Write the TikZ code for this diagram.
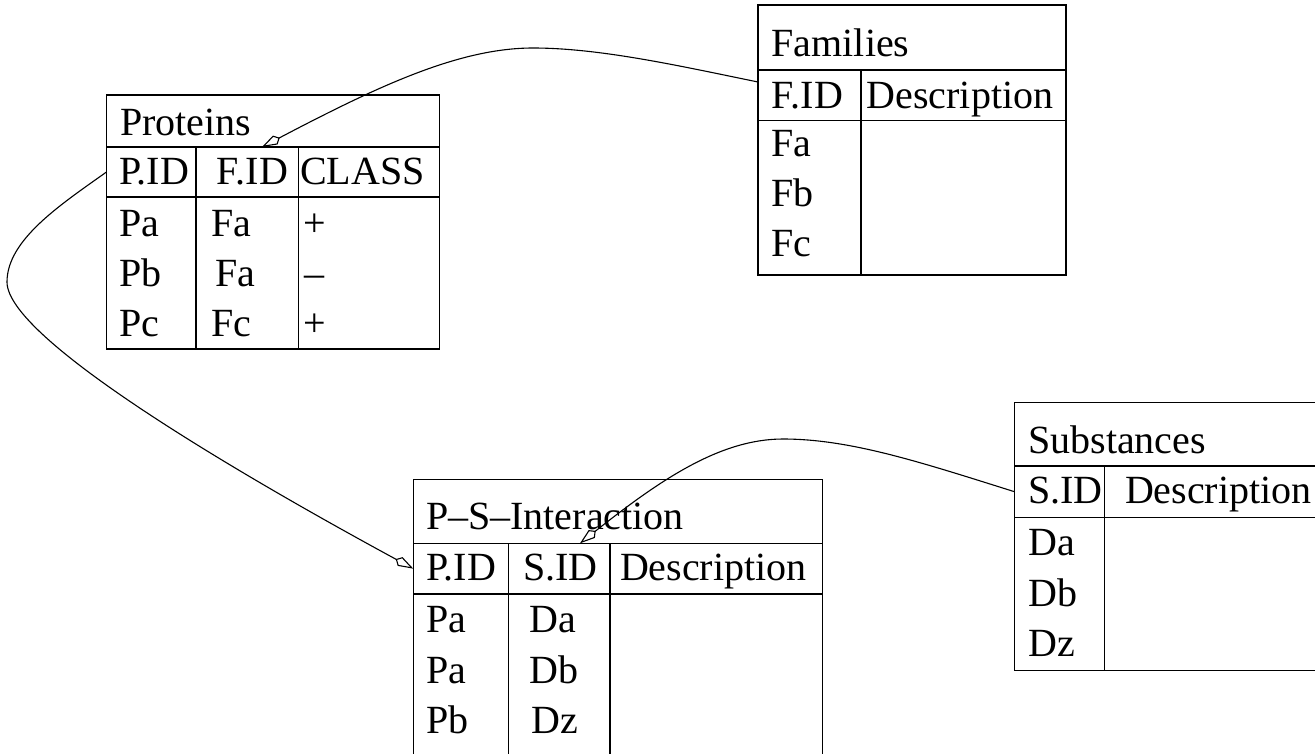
\documentclass[tikz,border=0pt]{standalone}
\usepackage{fontspec}
\setmainfont{Liberation Serif}
\usetikzlibrary{arrows.meta}
\begin{document}
\begin{tikzpicture}[x=1pt,y=-1pt,
  frame/.style={draw, line width=1.3pt, inner sep=0pt, outer sep=0pt, anchor=north west},
  rule/.style={line width=1.3pt},
  cell/.style={anchor=base west, inner sep=0pt, outer sep=0pt, font=\fontsize{40}{48}\selectfont},
  link/.style={line width=1.1pt, -{Kite[open, length=20pt, width=10pt, inset=5pt]}}
]
\useasboundingbox (0,0) rectangle (1315,753);
\clip (0,0) rectangle (1315,753);

% ---------- Proteins ----------
\node[frame, minimum width=333pt, minimum height=52pt]  (prot-title) at (106.5,95) {};
\node[frame, minimum width=333pt, minimum height=50pt]  (prot-head)  at (106.5,147) {};
\node[frame, minimum width=333pt, minimum height=152pt] (prot-body)  at (106.5,197) {};
\draw[rule] (196,147) -- (196,349);
\draw[rule] (298.7,147) -- (298.7,349);
\node[cell] (prot-name) at (120,135) {Proteins};
\node[cell] (prot-h1) at (119,184) {P.ID};
\node[cell] (prot-h2) at (216.7,184) {F.ID};
\node[cell] (prot-h3) at (300,184) {CLASS};
\node[cell] (prot-r1a) at (119,236.7) {Pa};
\node[cell] (prot-r1b) at (211.7,236.7) {Fa};
\node[cell] (prot-r1c) at (303,236.7) {+};
\node[cell] (prot-r2a) at (119,286.5) {Pb};
\node[cell] (prot-r2b) at (215,286.5) {Fa};
\node[cell] (prot-r2c) at (304,286.5) {–};
\node[cell] (prot-r3a) at (119,336) {Pc};
\node[cell] (prot-r3b) at (211.7,336) {Fc};
\node[cell] (prot-r3c) at (303,336) {+};

% ---------- Families ----------
\node[frame, minimum width=308pt, minimum height=65pt]    (fam-title) at (758,5) {};
\node[frame, minimum width=308pt, minimum height=50.7pt]  (fam-head)  at (758,70) {};
\node[frame, minimum width=308pt, minimum height=154.3pt] (fam-body)  at (758,120.7) {};
\draw[rule] (861,70) -- (861,275);
\node[cell] (fam-name) at (771.7,56.7) {Families};
\node[cell] (fam-h1) at (771.7,108) {F.ID};
\node[cell] (fam-h2) at (866.7,108) {Description};
\node[cell] (fam-r1) at (771.7,156.7) {Fa};
\node[cell] (fam-r2) at (771.7,206.7) {Fb};
\node[cell] (fam-r3) at (771.7,256.7) {Fc};

% ---------- P-S-Interaction ----------
\node[frame, minimum width=409.4pt, minimum height=64pt]   (psi-title) at (413.3,479.3) {};
\node[frame, minimum width=409.4pt, minimum height=50.7pt] (psi-head)  at (413.3,543.3) {};
\node[frame, minimum width=409.4pt, minimum height=200pt]  (psi-body)  at (413.3,594) {};
\draw[rule] (508.3,543.3) -- (508.3,794);
\draw[rule] (610,543.3) -- (610,794);
\node[cell] (psi-name) at (426,529.3) {P–S–Interaction};
\node[cell] (psi-h1) at (426,580.7) {P.ID};
\node[cell] (psi-h2) at (523.3,580.7) {S.ID};
\node[cell] (psi-h3) at (620,580.7) {Description};
\node[cell] (psi-r1a) at (426,632.3) {Pa};
\node[cell] (psi-r1b) at (529.3,632.3) {Da};
\node[cell] (psi-r2a) at (426,683.3) {Pa};
\node[cell] (psi-r2b) at (529.3,683.3) {Db};
\node[cell] (psi-r3a) at (426,733.3) {Pb};
\node[cell] (psi-r3b) at (531.7,733.3) {Dz};

% ---------- Substances ----------
\node[frame, minimum width=360pt, minimum height=63.3pt]  (sub-title) at (1014.3,402.7) {};
\node[frame, minimum width=360pt, minimum height=51.3pt]  (sub-head)  at (1014.3,466) {};
\node[frame, minimum width=360pt, minimum height=153.4pt] (sub-body)  at (1014.3,517.3) {};
\draw[rule] (1104.3,466) -- (1104.3,670.7);
\node[cell] (sub-name) at (1028.3,453.3) {Substances};
\node[cell] (sub-h1) at (1028.3,503.3) {S.ID};
\node[cell] (sub-h2) at (1125,503.3) {Description};
\node[cell] (sub-r1) at (1028.3,555) {Da};
\node[cell] (sub-r2) at (1028.3,606) {Db};
\node[cell] (sub-r3) at (1028.3,656.7) {Dz};

% ---------- foreign-key links ----------
\coordinate (fam-out) at ([yshift=-12pt]fam-head.north west);
\coordinate (prot-in) at ([xshift=155.5pt]prot-head.north west);
\coordinate (psi-in)  at ([xshift=166.7pt]psi-head.north west);
\coordinate (bend-l) at (7,282);
\coordinate (bend-t) at (533,48);
\coordinate (bend-s) at (783,439);

\draw[link] (prot-head.west) .. controls (60,205) and (7,240) .. (bend-l)
            .. controls (7,340) and (250,480) .. (psi-head.west);
\draw[link] (fam-out) .. controls (680,66) and (600,48) .. (bend-t)
            .. controls (460,48) and (380,85) .. (prot-in);
\draw[link] (sub-head.west) .. controls (920,462) and (850,439) .. (bend-s)
            .. controls (720,439) and (660,480) .. (psi-in);
\end{tikzpicture}
\end{document}
